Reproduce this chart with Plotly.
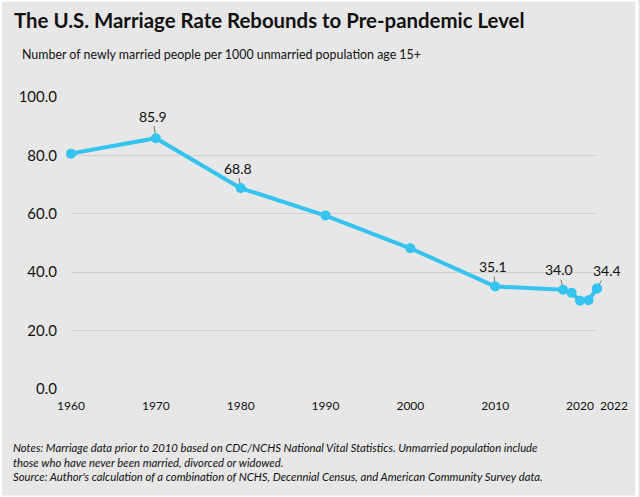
import plotly.graph_objects as go

years = [1960, 1970, 1980, 1990, 2000, 2010, 2018, 2019, 2020, 2021, 2022]
rates = [80.6, 85.9, 68.8, 59.4, 48.2, 35.1, 34.0, 33.0, 30.2, 30.4, 34.4]
x_ticks = [1960, 1970, 1980, 1990, 2000, 2010, 2020]
x_ticks_end = [2022]
y_ticks = [0, 20, 40, 60, 80, 100]
labeled = {1970: (-3, -22), 1980: (-3, -20), 2010: (-2, -20), 2018: (-4, -20), 2022: (10, -18)}

FONT = "Lato"
BLUE = "#35c3ef"

fig = go.Figure()
fig.add_trace(go.Scatter(
    x=years, y=rates, mode="lines+markers",
    line=dict(color=BLUE, width=4),
    marker=dict(color=BLUE, size=10),
    cliponaxis=False, hoverinfo="x+y", showlegend=False,
))
fig.add_trace(go.Scatter(
    x=[years[-1]], y=[rates[-1]], xaxis="x2", mode="markers",
    marker=dict(color=BLUE, size=10), cliponaxis=False,
    hoverinfo="skip", showlegend=False,
))

annotations = []
for yr, v in zip(years, rates):
    if yr in labeled:
        ax, ay = labeled[yr]
        annotations.append(dict(
            x=yr, y=v, xref="x", yref="y", text=f"{v:.1f}",
            showarrow=True, arrowhead=0, arrowwidth=0.7, arrowcolor="#444",
            ax=ax, ay=ay, standoff=5,
            font=dict(family=FONT, size=14, color="#111"),
        ))

annotations += [
    dict(text="<b>The U.S. Marriage Rate Rebounds to Pre-pandemic Level</b>",
         xref="paper", yref="paper", x=-0.1115, y=1.264, xanchor="left", yanchor="middle",
         showarrow=False, font=dict(family=FONT, size=20.4, color="#111")),
    dict(text="Number of newly married people per 1000 unmarried population age 15+",
         xref="paper", yref="paper", x=-0.097, y=1.144, xanchor="left", yanchor="middle",
         showarrow=False, font=dict(family=FONT, size=12.4, color="#111")),
    dict(text=("<i>Notes: Marriage data prior to 2010 based on CDC/NCHS National Vital Statistics. Unmarried population include<br>"
               "those who have never been married, divorced or widowed.<br>"
               "Source: Author's calculation of a combination of NCHS, Decennial Census, and American Community Survey data.</i>"),
         xref="paper", yref="paper", x=-0.114, y=-0.172, xanchor="left", yanchor="top", align="left",
         showarrow=False, font=dict(family=FONT, size=11.3, color="#111")),
]

xcommon = dict(range=[1960, 2022], tickangle=0, showgrid=False, zeroline=False, showline=False,
               tickfont=dict(family=FONT, size=12, color="#111"), ticklabelstandoff=8)

fig.update_layout(
    width=640, height=497,
    paper_bgcolor="#e7e7e7", plot_bgcolor="#e7e7e7",
    margin=dict(l=71, r=40, t=97, b=108),
    xaxis=dict(tickvals=x_ticks, ticktext=[str(t) for t in x_ticks], **xcommon),
    xaxis2=dict(tickvals=x_ticks_end, ticktext=[str(t) for t in x_ticks_end],
                overlaying="x", side="bottom", ticklabelshift=17, **xcommon),
    yaxis=dict(range=[0, 100], tickvals=y_ticks, ticktext=[f"{t:.1f}" for t in y_ticks],
               showgrid=True, gridcolor="#cfcfcf", gridwidth=1, zeroline=False, showline=False,
               tickfont=dict(family=FONT, size=15, color="#111"), ticklabelstandoff=13),
    annotations=annotations,
    shapes=[dict(type="rect", xref="paper", yref="paper",
                 x0=-71/529, x1=(640-71)/529, y0=-108/292, y1=(497-108)/292,
                 line=dict(color="white", width=3), fillcolor="rgba(0,0,0,0)", layer="above")],
)

fig.write_html("out.html")
